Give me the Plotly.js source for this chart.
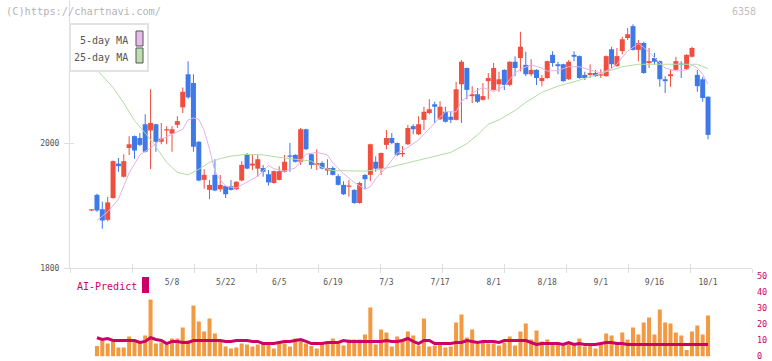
<!DOCTYPE html>
<html><head><meta charset="utf-8">
<script src="https://cdn.plot.ly/plotly-3.0.1.min.js"></script>
<style>html,body{margin:0;padding:0;background:#fff;}#chart{width:772px;height:361px;}</style>
</head><body><div id="chart"></div>
<script>
// ---- data ----
const dates = ["4/14","4/15","4/16","4/17","4/18","4/21","4/22","4/23","4/24","4/25",
"4/28","4/30","5/1","5/2","5/7","5/8","5/9","5/12","5/13","5/14",
"5/15","5/16","5/19","5/20","5/21","5/22","5/23","5/26","5/27","5/28",
"5/29","5/30","6/2","6/3","6/4","6/5","6/6","6/9","6/10","6/11",
"6/12","6/13","6/16","6/17","6/18","6/19","6/20","6/23","6/24","6/25",
"6/26","6/27","6/30","7/1","7/2","7/3","7/4","7/7","7/8","7/9",
"7/10","7/11","7/14","7/15","7/16","7/17","7/18","7/22","7/23","7/24",
"7/25","7/28","7/29","7/30","7/31","8/1","8/4","8/5","8/6","8/7",
"8/8","8/12","8/13","8/14","8/15","8/18","8/19","8/20","8/21","8/22",
"8/25","8/26","8/27","8/28","8/29","9/1","9/2","9/3","9/4","9/5",
"9/8","9/9","9/10","9/11","9/12","9/16","9/17","9/18","9/19","9/22",
"9/24","9/25","9/26","9/29","9/30","10/1"];

const open  = [1892,1917,1894,1877,1912,1967,1946,1992,2011,2008,
2030,2020,2030,2002,2020,2015,2029,2057,2110,2096,
2002,1941,1925,1949,1926,1931,1931,1926,1940,1981,
1964,1959,1960,1950,1936,1941,1954,1980,1981,1970,
2022,1982,1965,1968,1956,1960,1947,1933,1930,1925,
1904,1949,1949,1970,1959,1997,2008,2000,1982,1998,
2027,2014,2037,2048,2062,2038,2050,2042,2037,2094,
2120,2075,2078,2069,2099,2085,2094,2117,2093,2130,
2136,2125,2110,2117,2099,2104,2141,2126,2126,2102,
2141,2139,2109,2109,2112,2108,2107,2150,2123,2147,
2168,2187,2149,2160,2128,2136,2131,2102,2107,2117,
2126,2118,2138,2109,2102,2074];
const high  = [1894,1919,1906,1914,1972,1976,1982,2011,2012,2016,
2046,2086,2031,2032,2027,2027,2043,2089,2131,2110,
2003,1958,1941,1974,1949,1932,1941,1939,1971,1984,
1981,1981,1965,1957,1956,1963,1981,2000,1982,2024,
2023,1983,1990,1971,1974,1963,1950,1939,1941,1926,
1938,1950,1999,1979,1985,2021,2016,2001,1995,2029,
2030,2043,2058,2070,2066,2067,2058,2050,2098,2133,
2121,2091,2088,2096,2112,2128,2114,2118,2131,2139,
2178,2146,2134,2118,2109,2132,2147,2130,2127,2133,
2147,2140,2114,2126,2117,2118,2140,2154,2152,2170,
2184,2190,2165,2162,2152,2144,2132,2107,2117,2138,
2131,2142,2154,2117,2106,2075];
const low   = [1891,1890,1863,1875,1911,1954,1945,1981,1975,1995,
1985,1958,1986,1998,1998,1986,2024,2048,2071,1986,
1939,1927,1910,1923,1922,1912,1924,1925,1939,1958,
1957,1946,1946,1932,1935,1940,1953,1954,1969,1965,
1989,1959,1957,1958,1949,1948,1932,1917,1914,1903,
1903,1926,1939,1954,1949,1990,1998,1979,1978,1997,
2014,2013,2021,2046,2032,2037,2033,2032,2036,2032,
2070,2064,2064,2068,2070,2084,2082,2085,2091,2107,
2115,2107,2107,2093,2091,2103,2122,2110,2098,2101,
2131,2103,2101,2104,2106,2104,2106,2120,2122,2142,
2165,2148,2131,2111,2120,2125,2090,2080,2090,2116,
2104,2117,2137,2082,2066,2006];
const close = [1893,1892,1876,1905,1971,1963,1971,1998,1988,1997,
1986,2032,2002,2007,2022,2022,2035,2082,2073,1994,
1940,1949,1933,1924,1933,1918,1925,1938,1965,1959,
1967,1974,1954,1937,1955,1955,1970,1978,1970,2022,
1990,1965,1968,1959,1960,1949,1933,1918,1931,1904,
1936,1942,1998,1959,1984,2008,2000,1981,1983,2024,
2022,2030,2050,2054,2058,2058,2034,2037,2086,2130,
2085,2078,2066,2075,2104,2120,2102,2093,2130,2120,
2154,2110,2117,2104,2104,2131,2128,2123,2099,2130,
2138,2104,2104,2112,2107,2109,2139,2126,2139,2166,
2174,2149,2160,2112,2131,2130,2102,2099,2110,2131,
2125,2141,2152,2091,2072,2013];

const volume = [null,6.5,10,8.1,9.4,5.6,5.6,12.5,9.4,9.4,
13.1,35.6,8.1,8.75,7.5,11.25,11.25,18.1,10,31.9,
21.9,15.6,23.75,14.4,9.4,6.25,5,5.6,8.1,7.5,
6.25,7.5,8.1,8.1,5,9.4,8.1,6.25,11.25,10,
8.1,6.6,5,7.5,8.75,11.25,8.1,6.9,10.6,10.6,
10.6,13.75,30.6,7.5,16.9,15,6.25,12.5,10.6,15.6,
13.1,6.9,23.75,6.25,6.9,7.5,5.6,6.25,21.25,26.25,
11.9,16.9,8.1,8.75,8.1,8.1,6.9,8.75,12.5,6.9,
15.6,20.6,10.6,16.25,9.4,10.6,8.1,8.1,6.9,8.75,
8.1,11.25,6.25,8.1,5,7.5,14.4,13.1,8.1,15,
10.6,18.1,13.75,21.25,24.4,13.75,29.4,21.25,20.6,15,
13.1,4,15.6,19.4,13.75,25.6];

const aiPredict = [null,11.7,10.6,11.25,10,10,10,10,10,8.75,
9.4,11.7,10.6,10,8.1,9.4,9.4,8.75,8.75,10,
10,10,10,10,10,9.4,9.4,10,10,10,
9.4,9.4,8.1,8.1,8.1,8.75,9.4,9.4,10,10.6,
9.4,8.1,8.1,8.1,8.75,8.75,8.75,10,9.4,9.4,
9.4,9.4,9.4,9.4,9.4,10,9.4,9.4,10,11.25,
9.4,8.1,10,10,8.1,8.1,8.1,8.1,8.75,8.75,
10,9.4,8.75,9.4,9.4,9.4,8.75,10,10,10,
10,10,8.75,7.5,8.1,8.1,8.1,8.1,7.5,8.75,
7.5,8.1,7.5,7.5,7.5,8.1,8.75,8.75,8.1,8.1,
7.5,7.5,7.5,7.5,7.5,7.5,7.5,7.5,7.5,7.5,
7.5,7.5,7.5,7.5,7.5,7.5];

const ma5Idx = [1,3,5,7,9,11,13,15,17,18,19,20,21,22,23,24,25,27,29,31,33,34,36,38,40,42,44,45,47,49,51,52,53,55,57,59,61,62,63,64,66,68,69,71,73,75,77,79,80,82,84,85,87,89,91,93,95,97,98,99,100,102,103,104,105,106,107,109,111,112,113,114,115];
const ma5    = [1876,1890,1910,1952,1981,1992,2006,2014,2022,2037,2040,2038,2020,1990,1955,1941,1931,1928,1938,1947,1964,1959,1955,1960,1982,1985,1981,1968,1951,1937,1926,1930,1943,1961,1984,1993,2005,2014,2024,2033,2050,2050,2067,2080,2089,2082,2091,2112,2118,2125,2120,2115,2116,2122,2122,2117,2112,2119,2126,2137,2147,2159,2153,2145,2137,2128,2120,2115,2117,2125,2120,2110,2094];

const ma25Idx = [0,2,4,6,8,10,12,14,16,18,20,22,24,26,29,32,35,39,41,43,45,51,54,56,59,61,65,67,70,72,74,76,79,81,84,87,90,93,96,99,102,106,110,113,115];
const ma25    = [2126,2108,2089,2064,2036,2016,1994,1969,1953,1949,1958,1969,1975,1979,1982,1981,1977,1973,1971,1961,1956,1955,1958,1962,1968,1973,1981,1985,1999,2013,2030,2037,2052,2065,2081,2091,2098,2106,2114,2122,2126,2126,2126,2126,2119];

const priceTicks = [1800, 2000];
const volumeTicks = [0, 10, 20, 30, 40, 50];
const labelStart = 15, labelStep = 10;

// ---- derived ----
const idx = dates.map((d, i) => i);
const UP = '#f04f3f', DOWN = '#3f78e8';
const candleColor = idx.map(i => close[i] >= open[i] ? UP : DOWN);
const bodyBase = idx.map(i => Math.min(open[i], close[i]));
const bodyLen = idx.map(i => Math.max(Math.abs(close[i] - open[i]), 2));
const wickLen = idx.map(i => high[i] - low[i]);
const labelIdx = idx.filter(i => i >= labelStart && (i - labelStart) % labelStep === 0);
const labelText = labelIdx.map(i => dates[i]);

const FONT = 'DejaVu Sans Mono, monospace';
const XR = [-4.03, 123.2];

const traces = [
  {type:'bar', x: idx, base: low, y: wickLen, width: 0.19, xaxis:'x', yaxis:'y',
   marker:{color: candleColor, line:{width:0}}, hoverinfo:'skip', showlegend:false},
  {type:'bar', x: idx, base: bodyBase, y: bodyLen, width: 0.93, xaxis:'x', yaxis:'y',
   marker:{color: candleColor, line:{width:0}}, hoverinfo:'skip', showlegend:false},
  {type:'scatter', mode:'lines', x: ma25Idx, y: ma25, xaxis:'x', yaxis:'y',
   line:{color:'#b3dba7', width:1}, hoverinfo:'skip', showlegend:false},
  {type:'scatter', mode:'lines', x: ma5Idx, y: ma5, xaxis:'x', yaxis:'y',
   line:{color:'#e8b0ea', width:1}, hoverinfo:'skip', showlegend:false},
  {type:'bar', x: idx, y: volume, width: 0.75, xaxis:'x2', yaxis:'y2',
   marker:{color:'#f29a42', line:{width:0}}, hoverinfo:'skip', showlegend:false},
  {type:'scatter', mode:'lines', x: idx, y: aiPredict, xaxis:'x2', yaxis:'y2',
   line:{color:'#cc0066', width:3}, hoverinfo:'skip', showlegend:false},
  {type:'scatter', mode:'lines', x:[null], y:[null], xaxis:'x3', yaxis:'y', showlegend:false, hoverinfo:'skip'},
  {type:'scatter', mode:'lines', x:[null], y:[null], xaxis:'x4', yaxis:'y', showlegend:false, hoverinfo:'skip'},
  {type:'scatter', mode:'lines', x:[null], y:[null], xaxis:'x', yaxis:'y3', showlegend:false, hoverinfo:'skip'}
];

const gridTicks = Array.from({length: 12}, (_, k) => k);
const W = 682, H = 361, L = 70;
const px = v => (v - L) / W;
const py = v => 1 - v / H;

const layout = {
  width: 772, height: 361,
  margin: {l: 70, r: 20, t: 0, b: 0, pad: 0},
  paper_bgcolor: '#fff', plot_bgcolor: '#fff',
  font: {family: FONT, size: 10, color: '#555'},
  barmode: 'overlay', showlegend: false,
  xaxis: {domain:[0,1], range: XR, anchor:'y', showline:true, linecolor:'#dedede', linewidth:1,
    ticks:'', tickvals: labelIdx, ticktext: labelText, tickfont:{family:FONT, size:8, color:'#555'},
    ticklabelstandoff: 6, showgrid:false, zeroline:false, fixedrange:true},
  xaxis3: {overlaying:'x', anchor:'y', side:'bottom', range:[0,11], tickvals: gridTicks, ticks:'outside',
    ticklen:4, tickcolor:'#dedede', showticklabels:false, showline:false, showgrid:false, zeroline:false},
  xaxis4: {overlaying:'x', anchor:'y', side:'bottom', range:[0,11], tickvals: gridTicks, ticks:'inside',
    ticklen:4, tickcolor:'#dedede', showticklabels:false, showline:false, showgrid:false, zeroline:false},
  yaxis: {domain:[py(268), 1], range:[1800, 2228.8], anchor:'x', showline:true, linecolor:'#dedede', linewidth:1,
    ticks:'outside', ticklen:5, tickcolor:'#dedede', tickvals: priceTicks,
    tickfont:{family:FONT, size:8, color:'#555'}, ticklabelstandoff:3, showgrid:false, zeroline:false},
  yaxis3: {overlaying:'y', anchor:'x', side:'left', range:[1800, 2228.8], tickvals: priceTicks, ticks:'inside',
    ticklen:4, tickcolor:'#dedede', showticklabels:false, showline:false, showgrid:false, zeroline:false},
  xaxis2: {domain:[0,1], range: XR, anchor:'y2', visible:false},
  yaxis2: {domain:[py(356.5), py(276.5)], range:[0, 50], anchor:'x2', side:'right', tickvals: volumeTicks,
    ticks:'', tickfont:{family:FONT, size:8.5, color:'#cc0066'}, ticklabelstandoff:4, ticklabeloverflow:'allow',
    showline:false, showgrid:false, zeroline:false},
  shapes: [
    {type:'rect', xref:'paper', yref:'paper', x0:px(70), x1:px(148), y0:py(71), y1:py(24),
     fillcolor:'#fff', line:{color:'#e2e2e2', width:2}, layer:'above'},
    {type:'rect', xref:'paper', yref:'paper', x0:px(136), x1:px(143), y0:py(46), y1:py(31),
     fillcolor:'#e8baea', line:{color:'#555', width:1}, layer:'above'},
    {type:'rect', xref:'paper', yref:'paper', x0:px(136), x1:px(143), y0:py(63), y1:py(48),
     fillcolor:'#bde0b2', line:{color:'#555', width:1}, layer:'above'},
    {type:'rect', xref:'paper', yref:'paper', x0:px(142), x1:px(149), y0:py(293), y1:py(277),
     fillcolor:'#cc0066', line:{width:0}, layer:'above'}
  ],
  annotations: [
    {xref:'paper', yref:'paper', x:px(4), y:py(11), xanchor:'left', yanchor:'middle', showarrow:false,
     text:'(C)https://chartnavi.com/', font:{family:FONT, size:10.3, color:'#b4b4b4'}},
    {xref:'paper', yref:'paper', x:px(758), y:py(11), xanchor:'right', yanchor:'middle', showarrow:false,
     text:'6358', font:{family:FONT, size:10, color:'#c0c0c0'}},
    {xref:'paper', yref:'paper', x:px(130), y:py(40), xanchor:'right', yanchor:'middle', showarrow:false,
     text:'5-day MA', font:{family:FONT, size:10, color:'#555'}},
    {xref:'paper', yref:'paper', x:px(130), y:py(57), xanchor:'right', yanchor:'middle', showarrow:false,
     text:'25-day MA', font:{family:FONT, size:10, color:'#555'}},
    {xref:'paper', yref:'paper', x:px(75), y:py(286), xanchor:'left', yanchor:'middle', showarrow:false,
     text:'AI-Predict', font:{family:FONT, size:10, color:'#cc0066'}}
  ]
};

Plotly.newPlot('chart', traces, layout, {staticPlot:true, displayModeBar:false});
</script>
</body></html>
